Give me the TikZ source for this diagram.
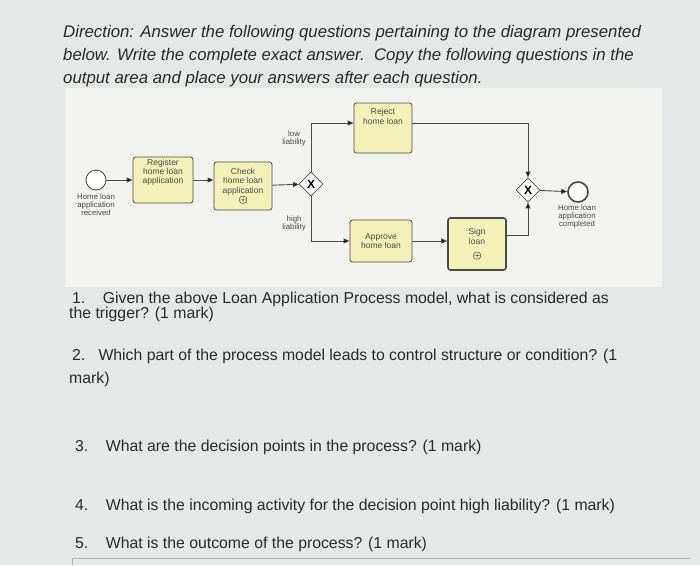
\documentclass[tikz,border=0pt]{standalone}
\usepackage{fontspec}
\setmainfont{Liberation Sans}
\usetikzlibrary{shapes.geometric,arrows.meta}
\definecolor{page}{HTML}{E6E8E8}
\definecolor{panel}{HTML}{F2F2EF}
\definecolor{task}{HTML}{F4F1B8}
\definecolor{ink}{HTML}{4A4A48}
\definecolor{txt}{HTML}{2A2A2C}
\newcommand{\subpmark}{\tikz\draw[ink,line width=0.5pt] (0,0) rectangle (7pt,7pt) (3.5pt,1pt)--(3.5pt,6pt) (1pt,3.5pt)--(6pt,3.5pt);}
\tikzset{
 task/.style={draw=ink,fill=task,rounded corners=2.5pt,line width=0.8pt,minimum width=#1,minimum height=46pt,align=center,font=\fontsize{8.5}{9.3}\selectfont,text=ink,inner sep=1pt},
 gw/.style={draw=ink,fill=white,diamond,minimum width=24pt,minimum height=24pt,inner sep=0pt,line width=0.8pt},
 ev/.style={draw=ink,fill=white,circle,minimum size=20pt,inner sep=0pt,line width=0.8pt},
 lab/.style={align=center,font=\fontsize{7.8}{7.6}\selectfont,text=ink,inner sep=0pt},
 flow/.style={draw=ink,line width=0.9pt,-{Triangle[length=6pt,width=5pt]}},
 q/.style={anchor=base west,font=\fontsize{15.8}{16}\selectfont,text=txt,inner sep=0pt},
 dir/.style={anchor=base west,font=\fontsize{16.8}{18}\selectfont\itshape,text=txt,inner sep=0pt}
}
\begin{document}
\begin{tikzpicture}[x=1pt,y=-1pt]
\fill[page] (0,0) rectangle (700,565);
\useasboundingbox (0,0) rectangle (700,565);
\fill[panel] (65,88) rectangle (662,287);
\node[dir] (d1) at (63,37) {Direction: Answer the following questions pertaining to the diagram presented};
\node[dir] (d2) at (63,60) {below. Write the complete exact answer.\ \ Copy the following questions in the};
\node[dir] (d3) at (63,83) {output area and place your answers after each question.};
% diagram
\node[ev] (s) at (96,180) {};
\node[lab,anchor=north] (sl) at (96,194) {Home loan\\application\\received};
\node[task=60pt] (reg) at (163,180) {Register\\home loan\\application\\[8pt]};
\node[task=58pt,minimum height=48pt] (chk) at (243,186) {Check\\home loan\\application\\[1pt]\subpmark};
\node[gw] (g1) at (311,184) {\bfseries\large X};
\node[task=58pt,minimum height=50pt] (rej) at (383,128) {Reject\\home loan\\[14pt]};
\node[task=62pt,minimum height=42pt] (app) at (381,241) {Approve\\home loan};
\node[task=58pt,minimum height=52pt,line width=1.6pt] (sgn) at (477,244) {Sign\\loan\\[6pt]\subpmark};
\node[gw] (g2) at (528,190) {\bfseries\large X};
\node[ev,line width=1.6pt] (e) at (578,192) {};
\node[lab,anchor=north] (el) at (577,205) {Home loan\\application\\completed};
\node[lab,anchor=south east] (low) at (306,146) {low\\liability};
\node[lab,anchor=north east] (high) at (306,216) {high\\liability};
\draw[flow] (s) -- (reg.west|-s);
\draw[flow] (reg) -- (reg-|chk.west);
\draw[flow] (chk) -- (g1);
\draw[flow] (g1.north) |- (rej.west|-0,123);
\draw[flow] (g1.south) |- (app.west);
\draw[flow] (app) -- (app-|sgn.west);
\draw[flow] (rej.east|-0,123) -| (g2.north);
\draw[flow] (sgn.east|-0,235) -| (g2.south);
\draw[flow] (g2) -- (e);
% questions
\node[q] (q1a) at (72,303) {1.\ \ \ \ Given the above Loan Application Process model, what is considered as};
\node[q] (q1b) at (69,318) {the trigger? (1 mark)};
\node[q] (q2a) at (72,360) {2.\ \ \ Which part of the process model leads to control structure or condition? (1};
\node[q] (q2b) at (69,383) {mark)};
\node[q] (q3) at (75,451) {3.\ \ \ \ What are the decision points in the process? (1 mark)};
\node[q] (q4) at (75,510) {4.\ \ \ \ What is the incoming activity for the decision point high liability? (1 mark)};
\node[q] (q5) at (75,548) {5.\ \ \ \ What is the outcome of the process? (1 mark)};
\draw[gray!60,line width=0.8pt] (72,565) -- (72,558) -- (690,558);
\end{tikzpicture}
\end{document}
